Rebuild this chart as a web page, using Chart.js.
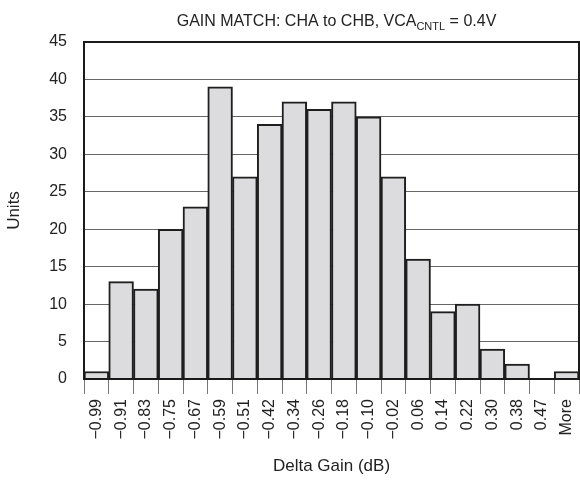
<!DOCTYPE html>
<html>
<head>
<meta charset="utf-8">
<script src="https://cdn.jsdelivr.net/npm/chart.js@4"></script>
<style>
  body { margin: 0; background: #fff; }
  #wrap { width: 580px; height: 481px; }
</style>
</head>
<body>
<div id="wrap"><canvas id="chart_gain_match"></canvas></div>
<script>
var bins = ['\u22120.99', '\u22120.91', '\u22120.83', '\u22120.75', '\u22120.67', '\u22120.59', '\u22120.51',
    '\u22120.42', '\u22120.34', '\u22120.26', '\u22120.18', '\u22120.10', '\u22120.02', '0.06', '0.14',
    '0.22', '0.30', '0.38', '0.47', 'More'];
var units = [1, 13, 12, 20, 23, 39, 27, 34, 37, 36, 37, 35, 27, 16, 9, 10, 4, 2, 0, 1];
var yTicks = [0, 5, 10, 15, 20, 25, 30, 35, 40, 45];

var FONT = "'Liberation Sans', Arial, sans-serif";

// title with a subscript, drawn by hand
var titlePlugin = {
    id: 'gainTitle',
    afterDraw: function (chart) {
        var ctx = chart.ctx;
        var area = chart.chartArea;
        var main = 'GAIN MATCH: CHA to CHB, VCA';
        var sub = 'CNTL';
        var tail = ' = 0.4V';
        ctx.save();
        ctx.fillStyle = '#222';
        ctx.textBaseline = 'alphabetic';
        ctx.font = '16px ' + FONT;
        var w1 = ctx.measureText(main).width;
        var w3 = ctx.measureText(tail).width;
        ctx.font = '11px ' + FONT;
        var w2 = ctx.measureText(sub).width;
        var x = (area.left + area.right) / 2 + 5 - (w1 + w2 + w3) / 2;
        var y = 26;
        ctx.font = '16px ' + FONT;
        ctx.fillText(main, x, y);
        ctx.font = '11px ' + FONT;
        ctx.fillText(sub, x + w1, y + 4);
        ctx.font = '16px ' + FONT;
        ctx.fillText(tail, x + w1 + w2, y);
        // frame round the plot area
        ctx.strokeStyle = '#1a1a1a';
        ctx.lineWidth = 2;
        ctx.strokeRect(area.left, area.top, area.right - area.left, area.bottom - area.top);
        ctx.restore();
    }
};

var ctx = document.getElementById('chart_gain_match');
new Chart(ctx, {
    type: 'bar',
    data: {
        labels: bins,
        datasets: [{
            data: units,
            backgroundColor: '#dcdcde',
            borderColor: '#1e1e1e',
            borderWidth: 2,
            barPercentage: 1,
            categoryPercentage: 1
        }]
    },
    plugins: [titlePlugin],
    options: {
        responsive: true,
        maintainAspectRatio: false,
        animation: false,
        devicePixelRatio: 1,
        layout: {
            padding: { top: 42, right: 1, left: 0, bottom: 0 }
        },
        plugins: {
            legend: { display: false },
            tooltip: { enabled: false }
        },
        scales: {
            x: {
                grid: {
                    offset: true,
                    drawOnChartArea: false,
                    tickLength: 15,
                    color: '#777',
                    lineWidth: 1
                },
                border: { color: '#1a1a1a', width: 2 },
                ticks: {
                    color: '#222',
                    font: { family: FONT, size: 16 },
                    minRotation: 90,
                    maxRotation: 90,
                    padding: 5,
                    autoSkip: false
                },
                title: {
                    display: true,
                    text: 'Delta Gain (dB)',
                    color: '#222',
                    font: { family: FONT, size: 17 },
                    padding: { top: 0, bottom: 4 }
                },
                afterFit: function (scale) {
                    scale.height = 102;
                    scale.paddingLeft = 0;
                    scale.paddingRight = 0;
                }
            },
            y: {
                min: 0,
                max: 45,
                afterBuildTicks: function (scale) {
                    scale.ticks = yTicks.map(function (v) { return { value: v }; });
                },
                grid: {
                    drawTicks: false,
                    color: '#666',
                    lineWidth: 1
                },
                border: { color: '#1a1a1a', width: 2 },
                ticks: {
                    color: '#222',
                    font: { family: FONT, size: 16 },
                    padding: 17
                },
                title: {
                    display: true,
                    text: 'Units',
                    color: '#222',
                    font: { family: FONT, size: 17 },
                    padding: { top: 4, bottom: 0 }
                },
                afterFit: function (scale) {
                    scale.width = 84;
                    scale.paddingTop = 0;
                    scale.paddingBottom = 0;
                }
            }
        }
    }
});
</script>
</body>
</html>
